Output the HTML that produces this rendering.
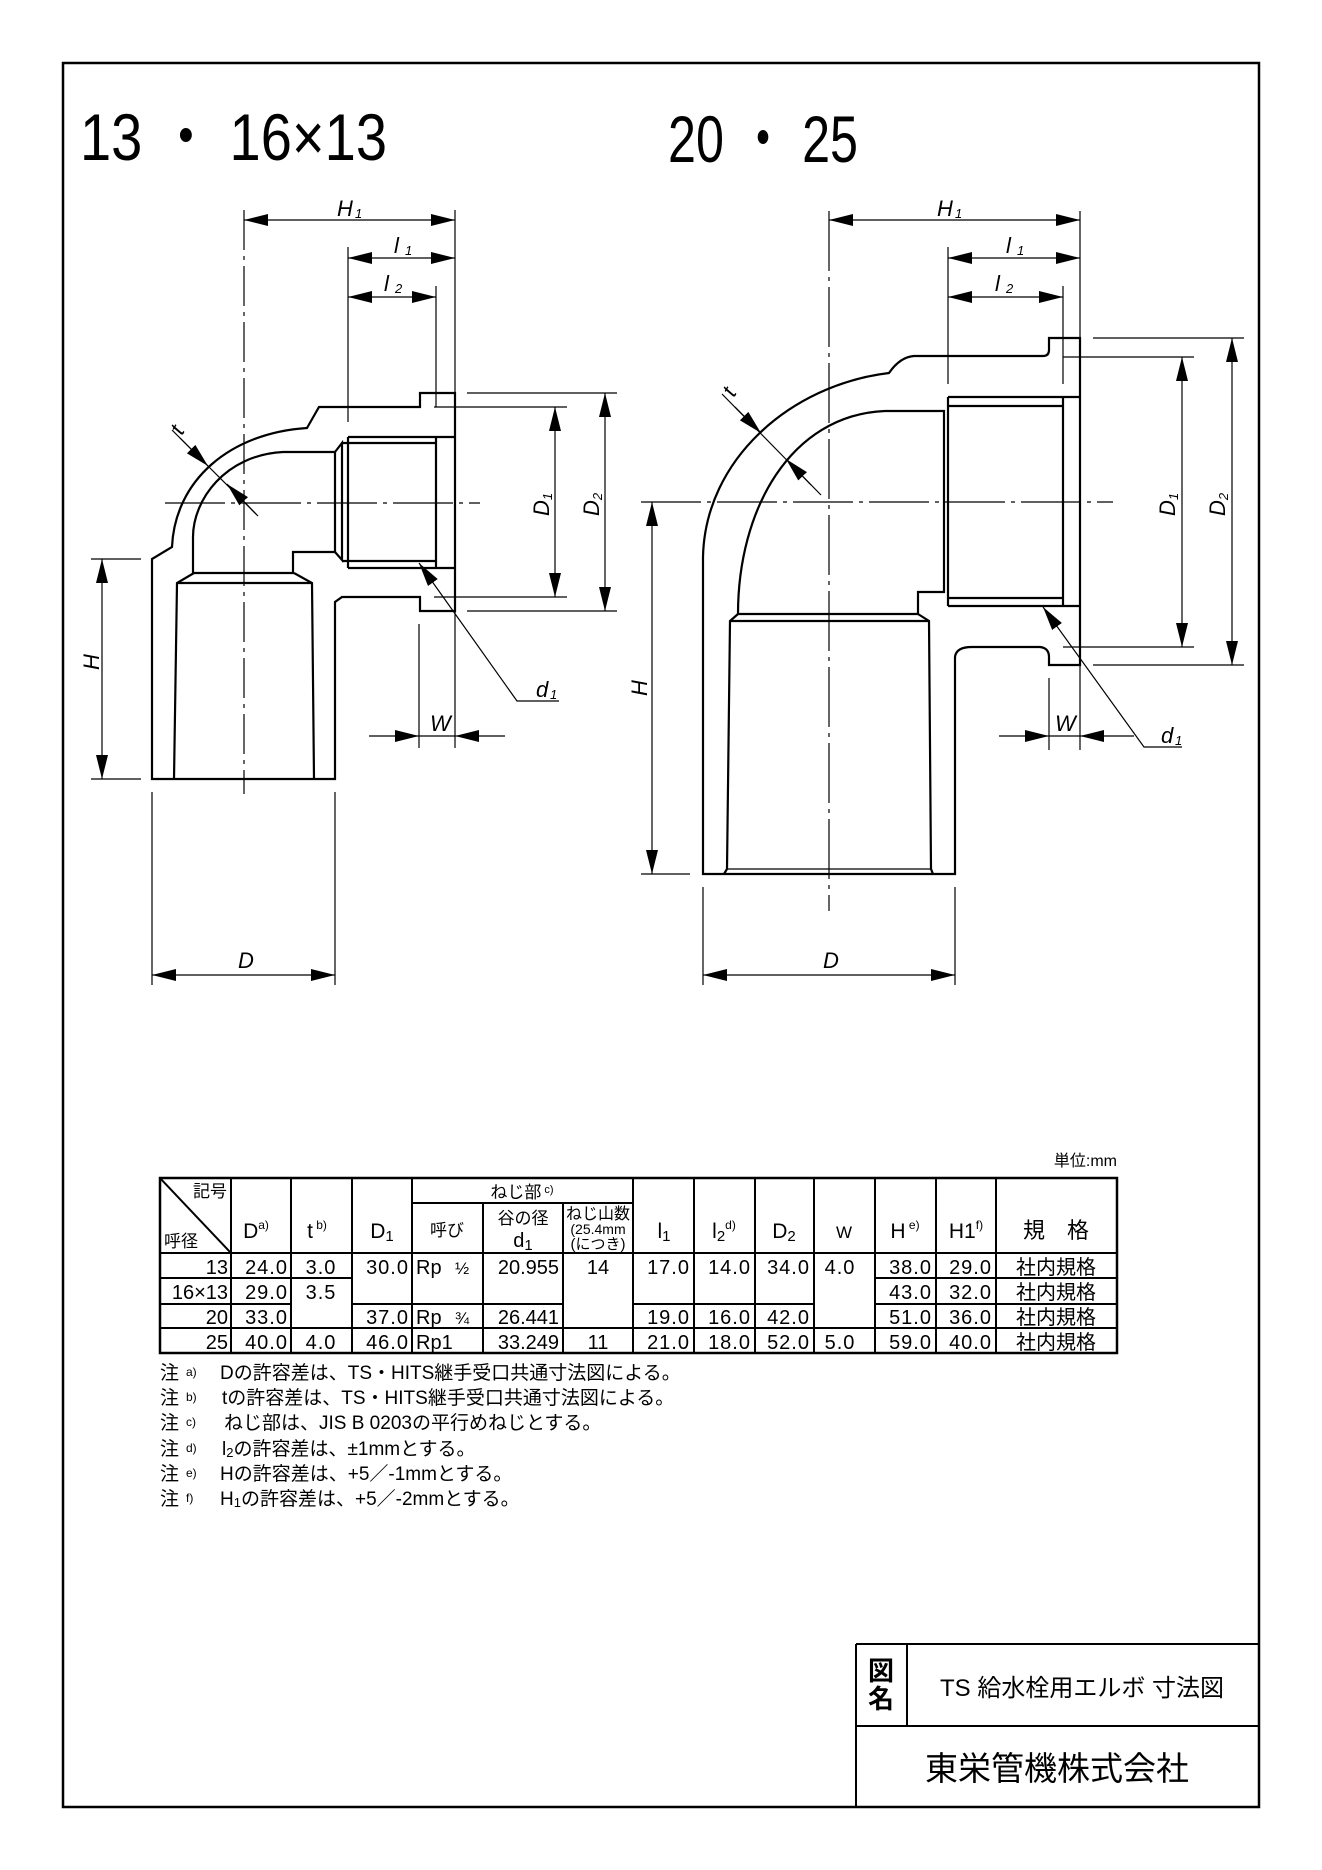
<!DOCTYPE html>
<html><head><meta charset="utf-8">
<style>
html,body{margin:0;padding:0;background:#fff;}
svg{display:block;}
text{font-family:"Liberation Sans","Noto Sans CJK JP",sans-serif;fill:#000;}
.it{font-style:italic;font-family:"Liberation Sans","Noto Sans CJK JP",sans-serif;}
</style></head>
<body>
<svg width="1322" height="1870" viewBox="0 0 1322 1870" xmlns="http://www.w3.org/2000/svg">
<defs>
<marker id="a" viewBox="0 0 24 12" refX="24" refY="6" markerWidth="24" markerHeight="12" markerUnits="userSpaceOnUse" orient="auto-start-reverse"><path d="M0,0L24,6L0,12z" fill="#000"/></marker>
</defs>
<rect x="0" y="0" width="1322" height="1870" fill="#fff"/>
<rect x="63" y="63" width="1196" height="1744" fill="none" stroke="#000" stroke-width="2.5"/>

<text x="80" y="160" font-size="66" textLength="307" lengthAdjust="spacingAndGlyphs">13 ・ 16×13</text>
<text x="668" y="162" font-size="66" textLength="190" lengthAdjust="spacingAndGlyphs">20 ・ 25</text>

<!-- ============ LEFT DRAWING ============ -->
<g fill="none" stroke="#000" stroke-width="1.2">
 <line x1="244" y1="210" x2="244" y2="794" stroke-dasharray="40,6,4,6"/>
 <line x1="165" y1="503" x2="480" y2="503" stroke-dasharray="60,6,4,6"/>
 <line x1="455" y1="210" x2="455" y2="393"/>
 <line x1="348" y1="247" x2="348" y2="422"/>
 <line x1="436" y1="286" x2="436" y2="407"/>
 <line x1="434" y1="407" x2="567" y2="407"/>
 <line x1="434" y1="597" x2="567" y2="597"/>
 <line x1="467" y1="393" x2="617" y2="393"/>
 <line x1="467" y1="611" x2="617" y2="611"/>
 <line x1="419" y1="624" x2="419" y2="748"/>
 <line x1="455" y1="611" x2="455" y2="748"/>
 <line x1="91" y1="559" x2="141" y2="559"/>
 <line x1="91" y1="779" x2="141" y2="779"/>
 <line x1="152" y1="792" x2="152" y2="985"/>
 <line x1="335" y1="792" x2="335" y2="985"/>
 <line x1="244" y1="220" x2="455" y2="220" marker-start="url(#a)" marker-end="url(#a)"/>
 <line x1="348" y1="258" x2="455" y2="258" marker-start="url(#a)" marker-end="url(#a)"/>
 <line x1="348" y1="297" x2="436" y2="297" marker-start="url(#a)" marker-end="url(#a)"/>
 <line x1="555" y1="407" x2="555" y2="597" marker-start="url(#a)" marker-end="url(#a)"/>
 <line x1="605" y1="393" x2="605" y2="611" marker-start="url(#a)" marker-end="url(#a)"/>
 <line x1="102" y1="559" x2="102" y2="779" marker-start="url(#a)" marker-end="url(#a)"/>
 <line x1="152" y1="975" x2="335" y2="975" marker-start="url(#a)" marker-end="url(#a)"/>
 <line x1="369" y1="736" x2="419" y2="736" marker-end="url(#a)"/>
 <line x1="505" y1="736" x2="455" y2="736" marker-end="url(#a)"/>
 <line x1="419" y1="736" x2="455" y2="736"/>
 <polyline points="559,701 517,701 419,563" marker-end="url(#a)"/>
 <line x1="172" y1="430" x2="258" y2="516"/>
 <line x1="180" y1="438" x2="208" y2="466" marker-end="url(#a)"/>
 <line x1="256" y1="514" x2="227" y2="484" marker-end="url(#a)"/>
</g>
<g fill="none" stroke="#000" stroke-width="2.2">
 <path d="M455,393 L420,393 L420,407 L319,407 L307,428 C230,433 175,480 172,547 L152,559 L152,779 L335,779 L335,602 L342,597 L420,597 L420,611 L455,611 Z"/>
 <path d="M335,452 L283,452 C225,455 193,500 193,537 L193,573 L293,573 L293,552 L335,552 Z"/>
 <path d="M335,452 L342,443 L342,560 L335,552"/>
 <line x1="348" y1="437" x2="348" y2="568"/>
 <line x1="436" y1="436" x2="436" y2="568"/>
 <line x1="348" y1="437" x2="455" y2="437"/>
 <line x1="342" y1="443" x2="436" y2="443"/>
 <line x1="342" y1="561" x2="436" y2="561"/>
 <line x1="348" y1="568" x2="455" y2="568"/>
 <path d="M194,573 L177,583 L174,779"/>
 <path d="M294,573 L312,583 L314,779"/>
 <line x1="177" y1="583" x2="312" y2="583"/>
</g>
<g font-size="22">
 <text class="it" x="337" y="216">H</text><text class="it" x="355" y="218" font-size="13">1</text>
 <text class="it" x="394" y="253">l</text><text class="it" x="405" y="255" font-size="13">1</text>
 <text class="it" x="384" y="291">l</text><text class="it" x="395" y="293" font-size="13">2</text>
 <text class="it" x="536" y="697">d</text><text class="it" x="550" y="699" font-size="13">1</text>
 <text class="it" x="430" y="731">W</text>
 <text class="it" x="238" y="968">D</text>
 <text class="it" transform="translate(549,516) rotate(-90)">D<tspan font-size="13" dy="3">1</tspan></text>
 <text class="it" transform="translate(599,516) rotate(-90)">D<tspan font-size="13" dy="3">2</tspan></text>
 <text class="it" transform="translate(99,670) rotate(-90)">H</text>
 <text class="it" transform="translate(182,436) rotate(-60)">t</text>
</g>

<!-- ============ RIGHT DRAWING ============ -->
<g fill="none" stroke="#000" stroke-width="1.2">
 <line x1="829" y1="211" x2="829" y2="911" stroke-dasharray="60,6,4,6"/>
 <line x1="641" y1="502" x2="1113" y2="502" stroke-dasharray="60,6,4,6"/>
 <line x1="1080" y1="211" x2="1080" y2="337"/>
 <line x1="948" y1="247" x2="948" y2="384"/>
 <line x1="1063" y1="286" x2="1063" y2="384"/>
 <line x1="1063" y1="357" x2="1194" y2="357"/>
 <line x1="1063" y1="647" x2="1194" y2="647"/>
 <line x1="1093" y1="338" x2="1244" y2="338"/>
 <line x1="1093" y1="665" x2="1244" y2="665"/>
 <line x1="1049" y1="678" x2="1049" y2="750"/>
 <line x1="1080" y1="665" x2="1080" y2="750"/>
 <line x1="641" y1="874" x2="690" y2="874"/>
 <line x1="703" y1="887" x2="703" y2="985"/>
 <line x1="955" y1="887" x2="955" y2="985"/>
 <line x1="829" y1="220" x2="1080" y2="220" marker-start="url(#a)" marker-end="url(#a)"/>
 <line x1="948" y1="258" x2="1080" y2="258" marker-start="url(#a)" marker-end="url(#a)"/>
 <line x1="948" y1="297" x2="1063" y2="297" marker-start="url(#a)" marker-end="url(#a)"/>
 <line x1="1182" y1="357" x2="1182" y2="647" marker-start="url(#a)" marker-end="url(#a)"/>
 <line x1="1232" y1="338" x2="1232" y2="665" marker-start="url(#a)" marker-end="url(#a)"/>
 <line x1="652" y1="502" x2="652" y2="874" marker-start="url(#a)" marker-end="url(#a)"/>
 <line x1="703" y1="975" x2="955" y2="975" marker-start="url(#a)" marker-end="url(#a)"/>
 <line x1="999" y1="736" x2="1049" y2="736" marker-end="url(#a)"/>
 <line x1="1134" y1="736" x2="1080" y2="736" marker-end="url(#a)"/>
 <line x1="1049" y1="736" x2="1080" y2="736"/>
 <polyline points="1182,747 1144,747 1043,607" marker-end="url(#a)"/>
 <line x1="722" y1="394" x2="821" y2="495"/>
 <line x1="735" y1="407" x2="761" y2="433" marker-end="url(#a)"/>
 <line x1="811" y1="485" x2="786" y2="459" marker-end="url(#a)"/>
</g>
<g fill="none" stroke="#000" stroke-width="2.2">
 <path d="M1080,338 L1049,338 L1049,350 Q1049,356 1043,356 L914,356 Q900,357 889,373 C790,385 705,460 703,557 L703,874 L955,874 L955,657 Q956,647 972,647 L1040,647 Q1049,648 1049,657 L1049,665 L1080,665 Z"/>
 <path d="M944,411 L885,411 C790,415 738,510 738,614 L918,614 L918,592 L944,592 Z"/>
 <line x1="948" y1="397" x2="948" y2="606"/>
 <line x1="1063" y1="397" x2="1063" y2="606"/>
 <line x1="948" y1="397" x2="1080" y2="397"/>
 <line x1="948" y1="406" x2="1063" y2="406"/>
 <line x1="948" y1="598" x2="1063" y2="598"/>
 <line x1="948" y1="606" x2="1080" y2="606"/>
 <path d="M738,614 L730,621 L727,869 L724,874"/>
 <path d="M918,614 L929,621 L931,869 L933,874"/>
 <line x1="730" y1="621" x2="929" y2="621"/>
 <line x1="727" y1="869" x2="931" y2="869" stroke-width="1.2"/>
</g>
<g font-size="22">
 <text class="it" x="937" y="216">H</text><text class="it" x="955" y="218" font-size="13">1</text>
 <text class="it" x="1006" y="253">l</text><text class="it" x="1017" y="255" font-size="13">1</text>
 <text class="it" x="995" y="291">l</text><text class="it" x="1006" y="293" font-size="13">2</text>
 <text class="it" x="1161" y="743">d</text><text class="it" x="1175" y="745" font-size="13">1</text>
 <text class="it" x="1055" y="731">W</text>
 <text class="it" x="823" y="968">D</text>
 <text class="it" transform="translate(1175,516) rotate(-90)">D<tspan font-size="13" dy="3">1</tspan></text>
 <text class="it" transform="translate(1225,516) rotate(-90)">D<tspan font-size="13" dy="3">2</tspan></text>
 <text class="it" transform="translate(647,696) rotate(-90)">H</text>
 <text class="it" transform="translate(734,398) rotate(-60)">t</text>
</g>

<!-- ============ TABLE ============ -->
<text x="1117" y="1166" font-size="16" text-anchor="end">単位:mm</text>
<g stroke="#000" stroke-width="2" fill="none">
 <rect x="160" y="1178" width="957" height="175" stroke-width="2.5"/>
 <line x1="160" y1="1253" x2="1117" y2="1253"/>
 <line x1="412" y1="1203" x2="633" y2="1203"/>
 <line x1="160" y1="1178" x2="231" y2="1253"/>
 <line x1="231" y1="1178" x2="231" y2="1353"/>
 <line x1="291" y1="1178" x2="291" y2="1353"/>
 <line x1="352" y1="1178" x2="352" y2="1353"/>
 <line x1="412" y1="1178" x2="412" y2="1353"/>
 <line x1="483" y1="1203" x2="483" y2="1353"/>
 <line x1="563" y1="1203" x2="563" y2="1353"/>
 <line x1="633" y1="1178" x2="633" y2="1353"/>
 <line x1="694" y1="1178" x2="694" y2="1353"/>
 <line x1="755" y1="1178" x2="755" y2="1353"/>
 <line x1="814" y1="1178" x2="814" y2="1353"/>
 <line x1="875" y1="1178" x2="875" y2="1353"/>
 <line x1="936" y1="1178" x2="936" y2="1353"/>
 <line x1="996" y1="1178" x2="996" y2="1353"/>
 <line x1="160" y1="1278" x2="352" y2="1278"/>
 <line x1="875" y1="1278" x2="1117" y2="1278"/>
 <line x1="160" y1="1304" x2="291" y2="1304"/>
 <line x1="352" y1="1304" x2="563" y2="1304"/>
 <line x1="633" y1="1304" x2="814" y2="1304"/>
 <line x1="875" y1="1304" x2="1117" y2="1304"/>
 <line x1="160" y1="1328" x2="1117" y2="1328"/>
</g>
<g font-size="17">
 <text x="227" y="1197" text-anchor="end">記号</text>
 <text x="164" y="1247">呼径</text>
 <text x="522" y="1198" text-anchor="middle">ねじ部<tspan font-size="11" dy="-5"> c)</tspan></text>
 <text x="447" y="1236" text-anchor="middle">呼び</text>
 <text x="523" y="1224" text-anchor="middle">谷の径</text>
 <text x="523" y="1247" text-anchor="middle" font-size="20">d<tspan font-size="15" dy="3">1</tspan></text>
 <text x="598" y="1219" text-anchor="middle" font-size="16">ねじ山数</text>
 <text x="598" y="1234" text-anchor="middle" font-size="14">(25.4mm</text>
 <text x="598" y="1249" text-anchor="middle" font-size="15">(につき)</text>
</g>
<g font-size="21">
 <text x="256" y="1238" text-anchor="middle">D<tspan font-size="12" dy="-9">a)</tspan></text>
 <text x="317" y="1238" text-anchor="middle">t<tspan font-size="12" dy="-9"> b)</tspan></text>
 <text x="382" y="1238" text-anchor="middle">D<tspan font-size="15" dy="3">1</tspan></text>
 <text x="664" y="1238" text-anchor="middle">l<tspan font-size="15" dy="3">1</tspan></text>
 <text x="724" y="1238" text-anchor="middle">l<tspan font-size="15" dy="3">2</tspan><tspan font-size="12" dy="-12">d)</tspan></text>
 <text x="784" y="1238" text-anchor="middle">D<tspan font-size="15" dy="3">2</tspan></text>
 <text x="844" y="1238" text-anchor="middle" font-size="17">W</text>
 <text x="905" y="1238" text-anchor="middle">H<tspan font-size="12" dy="-9"> e)</tspan></text>
 <text x="966" y="1238" text-anchor="middle">H1<tspan font-size="12" dy="-9">f)</tspan></text>
 <text x="1056" y="1238" text-anchor="middle" font-size="22">規　格</text>
</g>
<g font-size="20">
 <text x="228" y="1274" text-anchor="end">13</text>
 <text x="288" y="1274" text-anchor="end" letter-spacing="1">24.0</text>
 <text x="321" y="1274" text-anchor="middle" letter-spacing="1">3.0</text>
 <text x="409" y="1274" text-anchor="end" letter-spacing="1">30.0</text>
 <text x="416" y="1274">Rp</text><text x="455" y="1274" font-size="17">½</text>
 <text x="559" y="1274" text-anchor="end">20.955</text>
 <text x="598" y="1274" text-anchor="middle">14</text>
 <text x="690" y="1274" text-anchor="end" letter-spacing="1">17.0</text>
 <text x="751" y="1274" text-anchor="end" letter-spacing="1">14.0</text>
 <text x="810" y="1274" text-anchor="end" letter-spacing="1">34.0</text>
 <text x="840" y="1274" text-anchor="middle" letter-spacing="1">4.0</text>
 <text x="932" y="1274" text-anchor="end" letter-spacing="1">38.0</text>
 <text x="992" y="1274" text-anchor="end" letter-spacing="1">29.0</text>
 <text x="1056" y="1274" text-anchor="middle">社内規格</text>
 <text x="228" y="1299" text-anchor="end">16×13</text>
 <text x="288" y="1299" text-anchor="end" letter-spacing="1">29.0</text>
 <text x="321" y="1299" text-anchor="middle" letter-spacing="1">3.5</text>
 <text x="932" y="1299" text-anchor="end" letter-spacing="1">43.0</text>
 <text x="992" y="1299" text-anchor="end" letter-spacing="1">32.0</text>
 <text x="1056" y="1299" text-anchor="middle">社内規格</text>
 <text x="228" y="1324" text-anchor="end">20</text>
 <text x="288" y="1324" text-anchor="end" letter-spacing="1">33.0</text>
 <text x="409" y="1324" text-anchor="end" letter-spacing="1">37.0</text>
 <text x="416" y="1324">Rp</text><text x="455" y="1324" font-size="17">¾</text>
 <text x="559" y="1324" text-anchor="end">26.441</text>
 <text x="690" y="1324" text-anchor="end" letter-spacing="1">19.0</text>
 <text x="751" y="1324" text-anchor="end" letter-spacing="1">16.0</text>
 <text x="810" y="1324" text-anchor="end" letter-spacing="1">42.0</text>
 <text x="932" y="1324" text-anchor="end" letter-spacing="1">51.0</text>
 <text x="992" y="1324" text-anchor="end" letter-spacing="1">36.0</text>
 <text x="1056" y="1324" text-anchor="middle">社内規格</text>
 <text x="228" y="1349" text-anchor="end">25</text>
 <text x="288" y="1349" text-anchor="end" letter-spacing="1">40.0</text>
 <text x="321" y="1349" text-anchor="middle" letter-spacing="1">4.0</text>
 <text x="409" y="1349" text-anchor="end" letter-spacing="1">46.0</text>
 <text x="416" y="1349">Rp1</text>
 <text x="559" y="1349" text-anchor="end">33.249</text>
 <text x="598" y="1349" text-anchor="middle">11</text>
 <text x="690" y="1349" text-anchor="end" letter-spacing="1">21.0</text>
 <text x="751" y="1349" text-anchor="end" letter-spacing="1">18.0</text>
 <text x="810" y="1349" text-anchor="end" letter-spacing="1">52.0</text>
 <text x="840" y="1349" text-anchor="middle" letter-spacing="1">5.0</text>
 <text x="932" y="1349" text-anchor="end" letter-spacing="1">59.0</text>
 <text x="992" y="1349" text-anchor="end" letter-spacing="1">40.0</text>
 <text x="1056" y="1349" text-anchor="middle">社内規格</text>
</g>

<g font-size="19">
 <text x="160" y="1379">注</text><text x="186" y="1376" font-size="12">a)</text><text x="220" y="1379">Dの許容差は、TS・HITS継手受口共通寸法図による。</text>
 <text x="160" y="1404">注</text><text x="186" y="1401" font-size="12">b)</text><text x="222" y="1404">tの許容差は、TS・HITS継手受口共通寸法図による。</text>
 <text x="160" y="1429">注</text><text x="186" y="1426" font-size="12">c)</text><text x="224" y="1429">ねじ部は、JIS B 0203の平行めねじとする。</text>
 <text x="160" y="1455">注</text><text x="186" y="1452" font-size="12">d)</text><text x="222" y="1455">l<tspan font-size="13" dy="2">2</tspan><tspan dy="-2">の許容差は、±1mmとする。</tspan></text>
 <text x="160" y="1480">注</text><text x="186" y="1477" font-size="12">e)</text><text x="220" y="1480">Hの許容差は、+5／-1mmとする。</text>
 <text x="160" y="1505">注</text><text x="186" y="1502" font-size="12">f)</text><text x="220" y="1505">H<tspan font-size="13" dy="2">1</tspan><tspan dy="-2">の許容差は、+5／-2mmとする。</tspan></text>
</g>

<g stroke="#000" stroke-width="2" fill="none">
 <line x1="856" y1="1644" x2="1259" y2="1644"/>
 <line x1="856" y1="1726" x2="1259" y2="1726"/>
 <line x1="856" y1="1644" x2="856" y2="1807"/>
 <line x1="907" y1="1644" x2="907" y2="1726"/>
</g>
<text x="881" y="1680" font-size="26" text-anchor="middle" font-weight="bold">図</text>
<text x="881" y="1708" font-size="26" text-anchor="middle" font-weight="bold">名</text>
<text x="1082" y="1696" font-size="24" text-anchor="middle">TS 給水栓用エルボ 寸法図</text>
<text x="1057" y="1780" font-size="33" text-anchor="middle">東栄管機株式会社</text>
</svg>
</body></html>
